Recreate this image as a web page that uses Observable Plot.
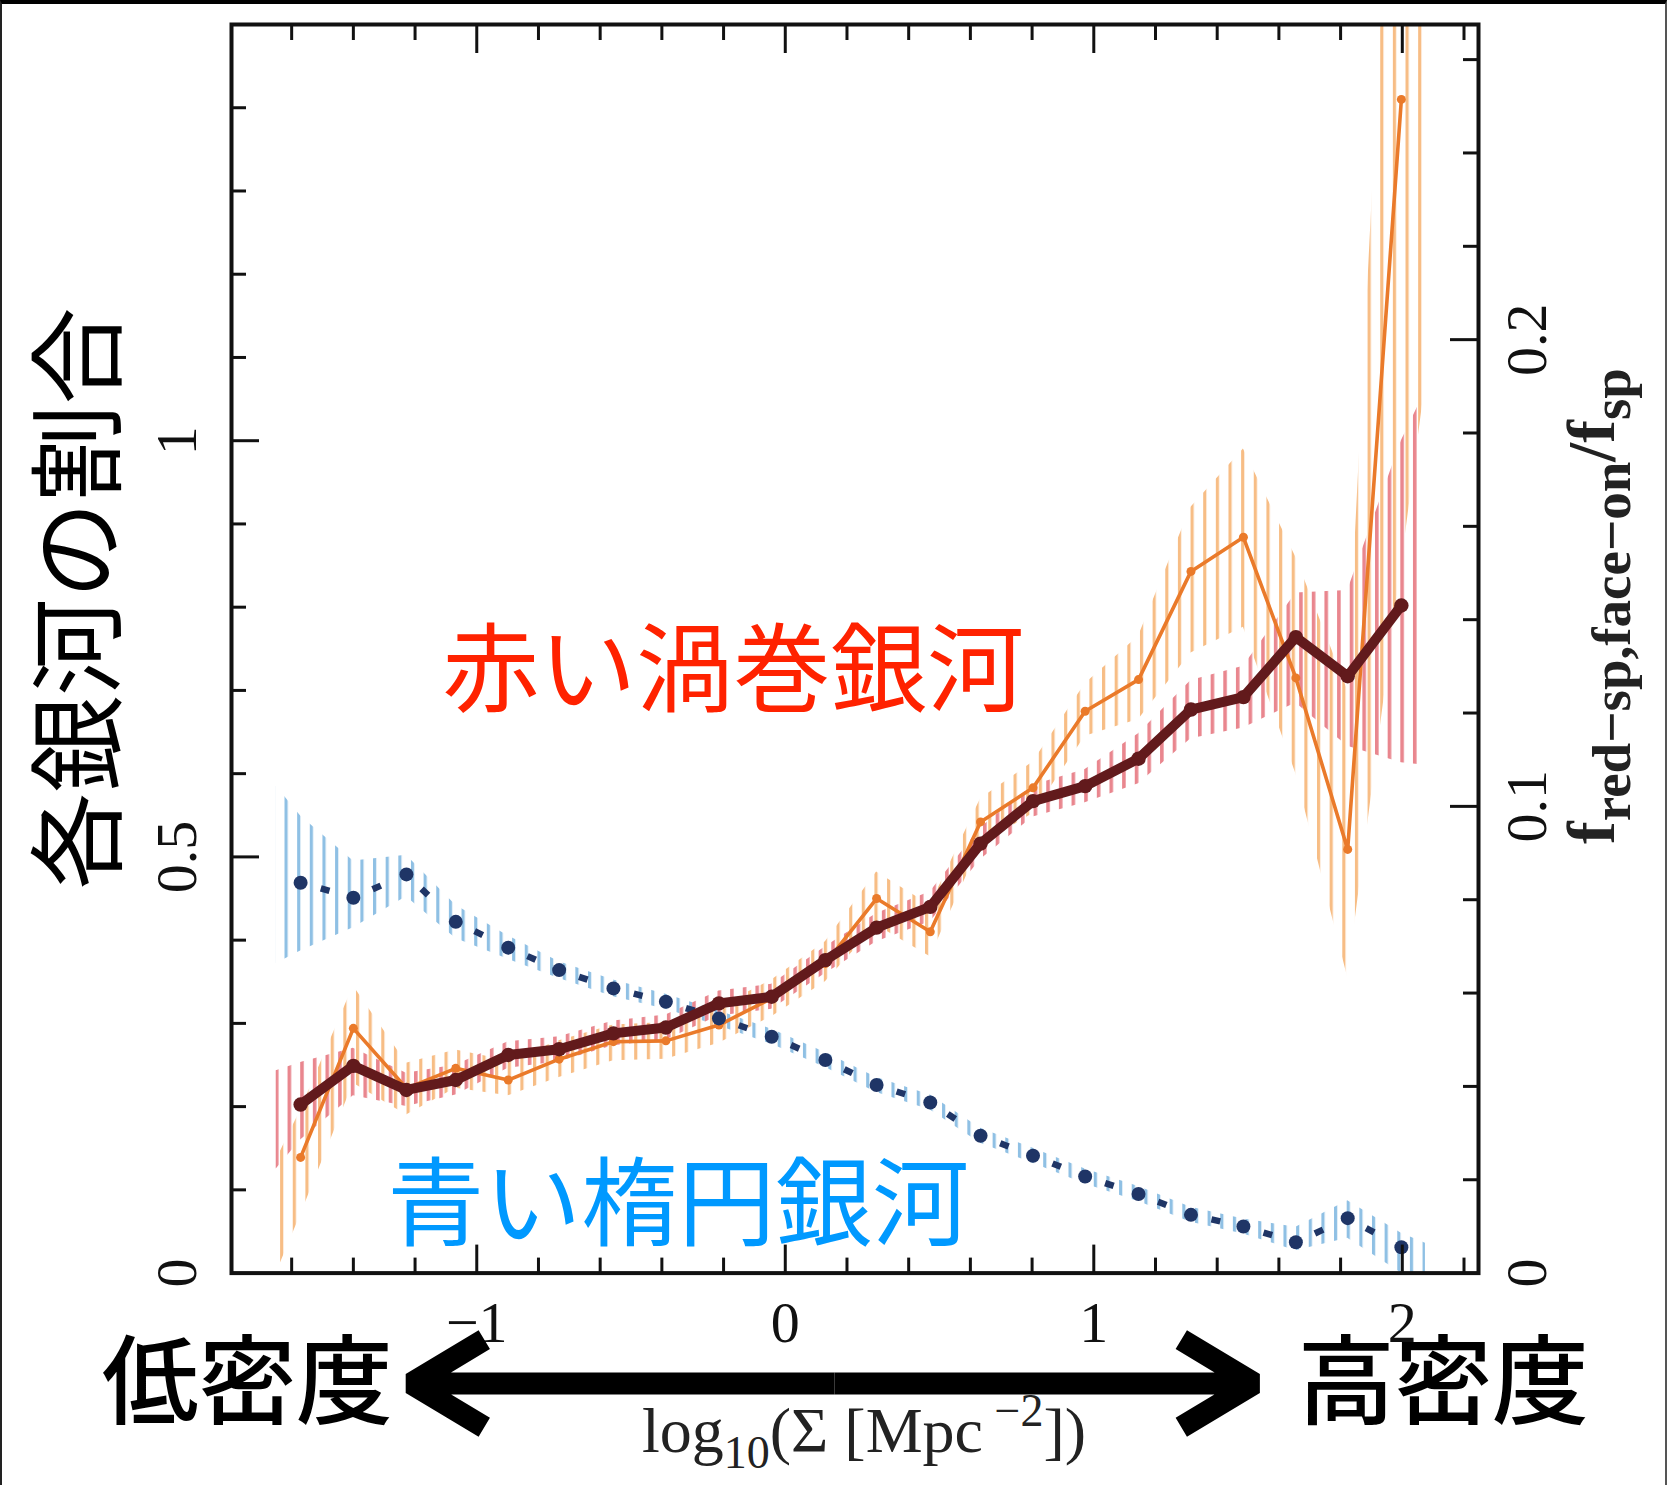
<!DOCTYPE html>
<html><head><meta charset="utf-8">
<script src="https://cdn.jsdelivr.net/npm/d3@7"></script>
<script src="https://cdn.jsdelivr.net/npm/@observablehq/plot@0.6"></script>
<style>
html,body{margin:0;padding:0;background:#fff;}
#wrap{position:relative;width:1667px;height:1485px;overflow:hidden;background:#fff;}
#wrap svg{display:block;}
#border{position:absolute;left:0;top:0;width:1667px;height:1485px;box-sizing:border-box;border-top:4px solid #000;border-left:2px solid #222;border-right:2px solid #555;pointer-events:none;}
</style></head><body><div id="wrap"><div id="border"></div></div>
<script>
// ---------- data ----------
const binX = [-1.571,-1.400,-1.228,-1.068,-0.898,-0.733,-0.557,-0.387,-0.215,-0.044,0.130,0.296,0.470,0.633,0.803,0.972,1.145,1.315,1.485,1.655,1.823,1.997];

// blue elliptical fraction
const blueY  = [0.469,0.451,0.479,0.422,0.391,0.364,0.342,0.326,0.306,0.284,0.256,0.226,0.205,0.165,0.141,0.116,0.095,0.070,0.056,0.037,0.066,0.031];
// band (error) edges incl. outer ends of the hatched band
const bandX   = [-1.65,-1.571,-1.400,-1.228,-1.068,-0.898,-0.733,-0.557,-0.387,-0.215,-0.044,0.130,0.296,0.470,0.633,0.803,0.972,1.145,1.315,1.485,1.655,1.823,1.997,2.075];
const blueLo  = [0.372,0.387,0.415,0.452,0.402,0.377,0.354,0.332,0.317,0.297,0.275,0.247,0.217,0.196,0.156,0.132,0.107,0.086,0.061,0.047,0.027,0.042,0.000,0.000];
const blueHi  = [0.585,0.549,0.495,0.502,0.442,0.405,0.374,0.352,0.335,0.315,0.293,0.265,0.235,0.214,0.174,0.150,0.125,0.104,0.079,0.065,0.055,0.087,0.048,0.036];

// orange: red face-on spiral ratio
const orangeY  = [0.139,0.294,0.222,0.246,0.232,0.257,0.278,0.279,0.298,0.330,0.372,0.450,0.410,0.542,0.583,0.675,0.713,0.843,0.884,0.715,0.509,1.410];
const orangeLo = [0.000,0.070,0.228,0.190,0.222,0.213,0.235,0.255,0.257,0.276,0.308,0.350,0.418,0.380,0.515,0.552,0.645,0.665,0.745,0.776,0.600,0.355,0.850,1.070];
const orangeHi = [0.136,0.196,0.345,0.252,0.268,0.255,0.279,0.298,0.301,0.320,0.352,0.398,0.482,0.442,0.570,0.614,0.708,0.765,0.920,0.990,0.860,0.700,2.000,2.300];

// maroon: red spiral fraction
const redY  = [0.2025,0.249,0.220,0.232,0.262,0.269,0.288,0.295,0.324,0.332,0.376,0.415,0.440,0.516,0.567,0.585,0.618,0.677,0.692,0.764,0.717,0.802];
const redLo = [0.125,0.160,0.213,0.200,0.214,0.246,0.254,0.273,0.280,0.309,0.317,0.360,0.398,0.422,0.497,0.548,0.565,0.588,0.642,0.655,0.685,0.633,0.613,0.610];
const redHi = [0.243,0.253,0.270,0.240,0.250,0.278,0.284,0.303,0.310,0.339,0.347,0.392,0.432,0.458,0.535,0.586,0.605,0.648,0.712,0.729,0.817,0.820,1.000,1.060];

// axis ticks and labels
const xMinorTicks = [-1.6,-1.4,-1.2,-0.8,-0.6,-0.4,-0.2,0.2,0.4,0.6,0.8,1.2,1.4,1.6,1.8,2.2];
const xMajorTicks = [-1,0,1,2];
const xTickLabels = ["−1","0","1","2"];
const yMinorTicks = [0.1,0.2,0.3,0.4,0.6,0.7,0.8,0.9,1.1,1.2,1.3,1.4];
const yMajorTicks = [0.5,1.0];
const yTickLabels = ["0","0.5","1"];
const yTickLabelVals = [0,0.5,1];
const rMinorTicks = [0.02,0.04,0.06,0.08,0.12,0.14,0.16,0.18,0.22,0.24,0.26];
const rMajorTicks = [0.1,0.2];
const rTickLabels = ["0","0.1","0.2"];
const rTickLabelVals = [0,0.1,0.2];
const rightFactor = 5.607; // right axis value -> left axis value

// annotations
const yTitle = "各銀河の割合";
const redLabel = "赤い渦巻銀河";
const blueLabel = "青い楕円銀河";
const lowLabel = "低密度";
const highLabel = "高密度";

// ---------- build rows ----------
const blueRows = binX.map((x,i)=>({x, y: blueY[i]}));
const orangeRows = binX.map((x,i)=>({x, y: orangeY[i]}));
const redRows = binX.map((x,i)=>({x, y: redY[i]}));
const blueBand = bandX.map((x,i)=>({x, lo: blueLo[i], hi: blueHi[i]}));
const orangeBand = bandX.map((x,i)=>({x, lo: orangeLo[i], hi: orangeHi[i]}));
const redBand = bandX.map((x,i)=>({x, lo: redLo[i], hi: redHi[i]}));

const W = 1667, H = 1485;
const mL = 231, mR = 189, mT = 24, mB = 212.4;
const plotH = H - mT - mB, plotW = W - mL - mR;
const navy = "#1f3566", maroon = "#621a1c", orange = "#ea7a2a";
const serif = "Liberation Serif, Times New Roman, serif";
const jp = "Noto Sans CJK JP, sans-serif";
const lab = {fontFamily: serif, fontSize: 58, fill: "#111", textAnchor: "middle", lineAnchor: "middle"};

const svg = Plot.plot({
  width: W, height: H,
  marginLeft: mL, marginRight: mR, marginTop: mT, marginBottom: mB,
  style: {background: "white", overflow: "visible"},
  x: {domain: [-1.795, 2.247], axis: null},
  y: {domain: [0, 1.5], axis: null},
  marks: [
    // hatched error bands
    Plot.areaY(blueBand, {x: "x", y1: "lo", y2: "hi", fill: "url(#hatch-blue)", clip: true}),
    Plot.areaY(orangeBand, {x: "x", y1: "lo", y2: "hi", fill: "url(#hatch-orange)", clip: true}),
    Plot.areaY(redBand, {x: "x", y1: "lo", y2: "hi", fill: "url(#hatch-pink)", clip: true}),
    // orange line
    Plot.line(orangeRows, {x: "x", y: "y", stroke: orange, strokeWidth: 3.6, clip: true}),
    Plot.dot(orangeRows, {x: "x", y: "y", r: 4.5, fill: orange, clip: true}),
    // navy dash-dot
    Plot.link(d3.pairs(blueRows), {x1: d=>d[0].x, y1: d=>d[0].y, x2: d=>d[1].x, y2: d=>d[1].y,
      stroke: navy, strokeWidth: 6.5, strokeDasharray: "0 21 9 200"}),
    Plot.dot(blueRows, {x: "x", y: "y", r: 7, fill: navy}),
    // maroon thick
    Plot.line(redRows, {x: "x", y: "y", stroke: maroon, strokeWidth: 10, strokeLinejoin: "round", strokeLinecap: "round"}),
    Plot.dot(redRows, {x: "x", y: "y", r: 7.2, fill: maroon}),
    // frame and ticks
    Plot.frame({stroke: "#111", strokeWidth: 4}),
    Plot.tickX(xMinorTicks, {x: d=>d, insetTop: plotH - 15, stroke: "#111", strokeWidth: 3}),
    Plot.tickX(xMajorTicks, {x: d=>d, insetTop: plotH - 28, stroke: "#111", strokeWidth: 3}),
    Plot.tickX(xMinorTicks, {x: d=>d, insetBottom: plotH - 16, stroke: "#111", strokeWidth: 3}),
    Plot.tickX(xMajorTicks, {x: d=>d, insetBottom: plotH - 29, stroke: "#111", strokeWidth: 3}),
    Plot.tickY(yMinorTicks, {y: d=>d, insetRight: plotW - 15, stroke: "#111", strokeWidth: 3}),
    Plot.tickY(yMajorTicks, {y: d=>d, insetRight: plotW - 28, stroke: "#111", strokeWidth: 3}),
    Plot.tickY(rMinorTicks, {y: d=>d*rightFactor, insetLeft: plotW - 15, stroke: "#111", strokeWidth: 3}),
    Plot.tickY(rMajorTicks, {y: d=>d*rightFactor, insetLeft: plotW - 28, stroke: "#111", strokeWidth: 3}),
    // tick labels
    Plot.text(xMajorTicks, {x: d=>d, text: (d,i)=>xTickLabels[i], frameAnchor: "bottom", dy: 50, ...lab}),
    Plot.text(yTickLabelVals, {y: d=>d, text: (d,i)=>yTickLabels[i], frameAnchor: "left", dx: -54, rotate: -90, ...lab}),
    Plot.text(rTickLabelVals, {y: d=>d*rightFactor, text: (d,i)=>rTickLabels[i], frameAnchor: "right", dx: 49, rotate: -90, ...lab}),
    // annotations
    Plot.text([yTitle], {x: -2.279, y: 0.8104, text: d=>d, rotate: -90, fontFamily: jp, fontSize: 97, fill: "#000"}),
    Plot.text([redLabel], {x: -0.169, y: 0.7215, text: d=>d, fontFamily: jp, fontSize: 97, fill: "#ff2200"}),
    Plot.text([blueLabel], {x: -0.347, y: 0.080, text: d=>d, fontFamily: jp, fontSize: 97, fill: "#0099ff"}),
    Plot.text([lowLabel], {x: -1.744, y: -0.1338, text: d=>d, fontFamily: jp, fontSize: 97, fontWeight: 500, fill: "#000"}),
    Plot.text([highLabel], {x: 2.133, y: -0.1338, text: d=>d, fontFamily: jp, fontSize: 97, fontWeight: 500, fill: "#000"}),
    Plot.arrow([{a: 0.16, b: -1.212}, {a: 0.16, b: 1.52}], {x1: "a", x2: "b", y1: -0.1326, y2: -0.1326,
      stroke: "#000", strokeWidth: 22, headLength: 5.8, headAngle: 62, strokeLinejoin: "miter", strokeLinecap: "butt"})
  ]
});

// hatch patterns for the error bands
const PERIOD = 12.645;
const defs = d3.select(svg).insert("defs", ":first-child");
function hatch(id, color, center, w) {
  const p = defs.append("pattern").attr("id", id).attr("patternUnits", "userSpaceOnUse")
    .attr("x", center - w/2).attr("y", 0).attr("width", PERIOD).attr("height", H);
  p.append("rect").attr("x", 0).attr("y", 0).attr("width", w).attr("height", H).attr("fill", color);
}
hatch("hatch-blue", "#8fc0e4", 286.1, 3.2);
hatch("hatch-orange", "#f7bd85", 281.7, 3.2);
hatch("hatch-pink", "#e9868e", 276.7, 3.6);

document.getElementById("wrap").insertBefore(svg, document.getElementById("border"));

// axis titles with sub/superscripts
const s = d3.select(svg);
const bt = s.append("text").attr("x", 864).attr("y", 1452).attr("text-anchor", "middle")
  .attr("font-family", serif).attr("font-size", 64).attr("fill", "#222");
bt.append("tspan").text("log");
bt.append("tspan").attr("dy", 16).attr("font-size", 46).text("10");
bt.append("tspan").attr("dy", -16).text("(Σ [Mpc");
bt.append("tspan").attr("dy", -26).attr("font-size", 46).text(" −2");
bt.append("tspan").attr("dy", 26).text("])");

const rt = s.append("text").attr("transform", "translate(1614,606) rotate(-90)").attr("text-anchor", "middle")
  .attr("font-family", serif).attr("font-size", 68).attr("font-weight", "bold").attr("fill", "#222");
rt.append("tspan").text("f");
rt.append("tspan").attr("dy", 16).attr("font-size", 55).text("red−sp,face−on");
rt.append("tspan").attr("dy", -16).text("/f");
rt.append("tspan").attr("dy", 16).attr("font-size", 55).text("sp");
</script>
</body></html>
